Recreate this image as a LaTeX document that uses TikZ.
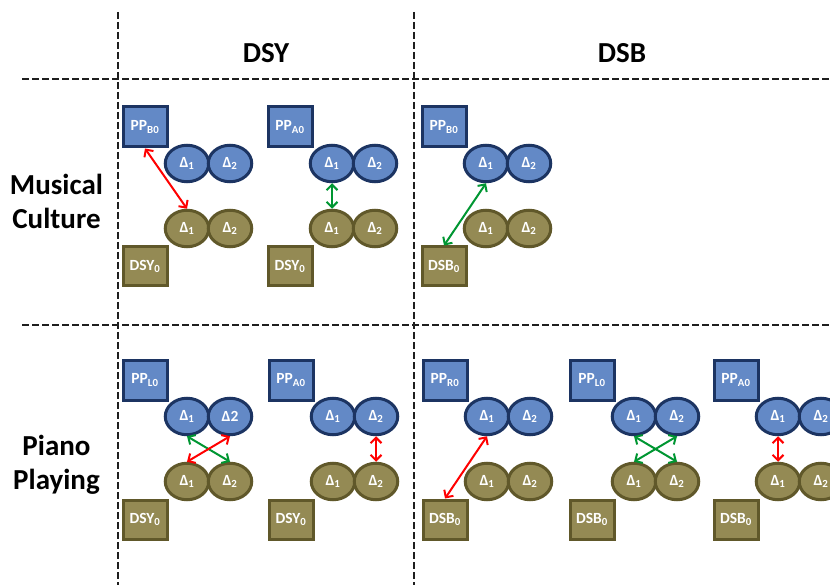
\documentclass[tikz,border=0pt]{standalone}
\usepackage{fontspec}
\setmainfont{Carlito}
\usetikzlibrary{shapes.geometric,arrows.meta}

\definecolor{bluefill}{RGB}{99,137,198}
\definecolor{blueedge}{RGB}{28,52,98}
\definecolor{olivefill}{RGB}{148,138,84}
\definecolor{oliveedge}{RGB}{96,88,42}
\definecolor{linkred}{RGB}{255,0,0}
\definecolor{linkgreen}{RGB}{0,150,50}
\definecolor{gridgray}{RGB}{30,30,30}

\tikzset{
  gridline/.style={draw=gridgray, line width=1.3pt, dash pattern=on 7pt off 3pt},
  ppbox/.style={rectangle, draw=blueedge, fill=bluefill, line width=3pt,
    minimum width=44pt, minimum height=40pt, inner sep=0pt, text=white,
    font=\bfseries\fontsize{15.5}{17}\selectfont},
  dsbox/.style={ppbox, draw=oliveedge, fill=olivefill, minimum height=39pt},
  blueball/.style={ellipse, draw=blueedge, fill=bluefill, line width=3pt,
    minimum width=43.5pt, minimum height=36.5pt, inner sep=0pt, text=white,
    font=\bfseries\fontsize{15.5}{17}\selectfont},
  oliveball/.style={blueball, draw=oliveedge, fill=olivefill},
  twoway/.style={line width=2pt,
    {Straight Barb[length=5.5pt,width=11pt]}-{Straight Barb[length=5.5pt,width=11pt]}},
  redlink/.style={twoway, draw=linkred},
  greenlink/.style={twoway, draw=linkgreen},
  heading/.style={font=\bfseries\fontsize{29}{34}\selectfont, anchor=base},
}

% One group: PP box, two blue deltas, two olive deltas, DS box
% #1 name prefix, #2 left, #3 top, #4 PP subscript, #5 DS text, #6 label of blue delta 2
\newcommand\pairgroup[6]{%
  \node[ppbox] (#1pp) at (#2+22, #3+20) {PP\textsubscript{#4}};
  \node[blueball] (#1b1) at (#2+64, #3+56.5) {Δ\textsubscript{1}};
  \node[blueball] (#1b2) at (#2+107, #3+56.5) {#6};
  \node[oliveball] (#1o1) at (#2+64, #3+121.5) {Δ\textsubscript{1}};
  \node[oliveball] (#1o2) at (#2+107, #3+121.5) {Δ\textsubscript{2}};
  \node[dsbox] (#1ds) at (#2+22, #3+159.5) {#5\textsubscript{0}};
}

\begin{document}
\begin{tikzpicture}[x=1pt, y=-1pt]
  \useasboundingbox (0,0) rectangle (830,585);
  \clip (0,0) rectangle (830,585);

  % table rules
  \draw[gridline] (118,12) -- (118,585);
  \draw[gridline] (414,12) -- (414,585);
  \draw[gridline] (22,79) -- (830,79);
  \draw[gridline] (22,325) -- (830,325);

  % column and row headings
  \node[heading] (hdsy) at (266,63) {DSY};
  \node[heading] (hdsb) at (622,63) {DSB};
  \node[heading] (rmus) at (56.5,195) {Musical};
  \node[heading] (rcul) at (56.5,229) {Culture};
  \node[heading] (rpia) at (56.5,455) {Piano};
  \node[heading] (rpla) at (56.5,489) {Playing};

  % Musical Culture row
  \pairgroup{g1}{123}{107}{B0}{DSY}{Δ\textsubscript{2}}
  \pairgroup{g2}{268}{107}{A0}{DSY}{Δ\textsubscript{2}}
  \pairgroup{g3}{422}{107}{B0}{DSB}{Δ\textsubscript{2}}

  % Piano Playing row
  \pairgroup{h1}{123}{360}{L0}{DSY}{Δ2}
  \pairgroup{h2}{269}{360}{A0}{DSY}{Δ\textsubscript{2}}
  \pairgroup{h3}{423}{360}{R0}{DSB}{Δ\textsubscript{2}}
  \pairgroup{h4}{570}{360}{L0}{DSB}{Δ\textsubscript{2}}
  \pairgroup{h5}{714}{360}{A0}{DSB}{Δ\textsubscript{2}}

  % links, Musical Culture
  \draw[redlink] (g1pp.south) -- (g1o1.north);
  \draw[greenlink] (g2b1.south) -- (g2o1.north);
  \draw[greenlink] (g3b1.south) -- (g3ds.north);

  % links, Piano Playing
  \draw[greenlink] (h1b1.south) -- (h1o2.north);
  \draw[redlink] (h1b2.south) -- (h1o1.north);
  \draw[redlink] (h2b2.south) -- (h2o2.north);
  \draw[redlink] (h3b1.south) -- (h3ds.north);
  \draw[greenlink] (h4b1.south) -- (h4o2.north);
  \draw[greenlink] (h4b2.south) -- (h4o1.north);
  \draw[redlink] (h5b1.south) -- (h5o1.north);
\end{tikzpicture}
\end{document}
